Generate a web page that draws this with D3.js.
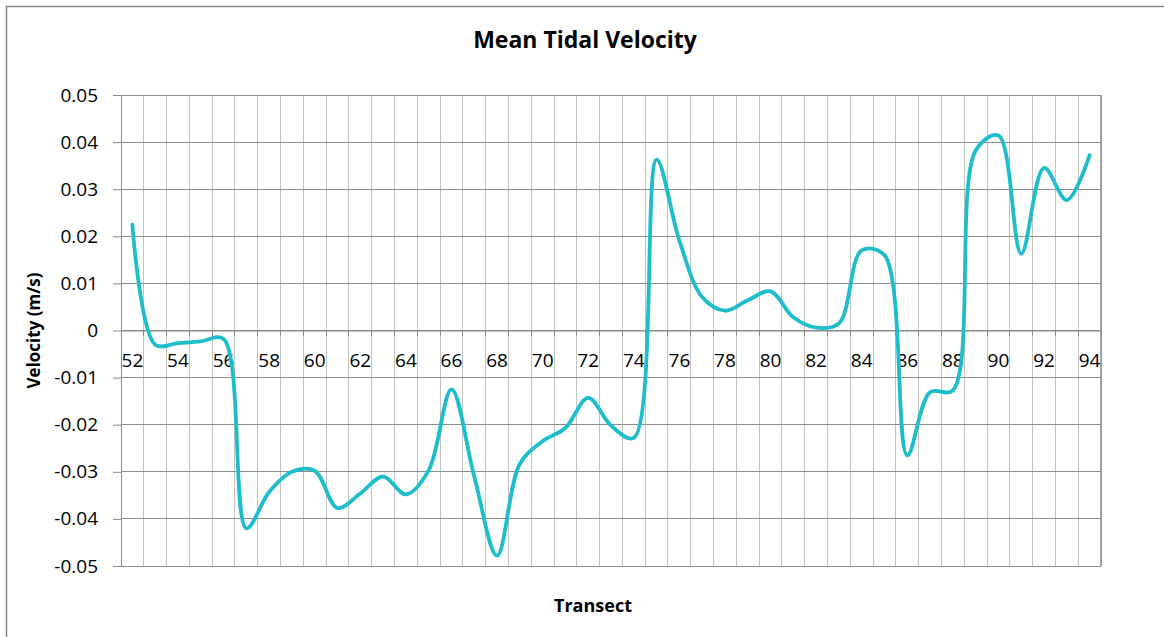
<!DOCTYPE html>
<html>
<head>
<meta charset="utf-8">
<script src="https://cdn.jsdelivr.net/npm/d3@7"></script>
<style>
    body { margin: 0; background: #fff; }
    text { font-family: "Open Sans", sans-serif; fill: #000; }
</style>
</head>
<body>
<div id="line-chart"><svg></svg></div>
<script>
// transect numbers along the x axis
var transects = [52, 53, 54, 55, 56, 57, 58, 59, 60, 61, 62, 63, 64, 65, 66, 67, 68, 69, 70, 71, 72,
    73, 74, 75, 76, 77, 78, 79, 80, 81, 82, 83, 84, 85, 86, 87, 88, 89, 90, 91, 92, 93, 94];

// mean tidal velocity (m/s) per transect
var velocity = [0.0225, -0.003, -0.0027, -0.0023, -0.0018, -0.042, -0.0343, -0.030, -0.0298, -0.0377,
    -0.0346, -0.031, -0.0348, -0.0297, -0.0125, -0.031, -0.0478, -0.0283, -0.0235, -0.0207, -0.0143,
    -0.0202, -0.0228, 0.0363, 0.0191, 0.0071, 0.0042, 0.0064, 0.0083, 0.0028, 0.0006, 0.0015, 0.017,
    0.016, -0.0265, -0.0131, -0.0127, 0.0382, 0.0414, 0.0163, 0.0345, 0.0277, 0.0372];

var xLabels = [52, 54, 56, 58, 60, 62, 64, 66, 68, 70, 72, 74, 76, 78, 80, 82, 84, 86, 88, 90, 92, 94];
var yTicks = [0.05, 0.04, 0.03, 0.02, 0.01, 0, -0.01, -0.02, -0.03, -0.04, -0.05];

var data = transects.map(function (t, i) {
    return {transect: t, v: velocity[i]};
});

var W = 1164, H = 637;
var margin = {top: 95, right: 63, bottom: 71, left: 121},
    width = W - margin.left - margin.right,
    height = H - margin.top - margin.bottom;

var svg = d3.select("#line-chart").select("svg")
    .attr("width", W)
    .attr("height", H);

// outer chart border
svg.append("rect")
    .attr("x", 6.5).attr("y", 6.5)
    .attr("width", W + 10).attr("height", H + 10)
    .attr("fill", "none")
    .attr("stroke", "#868686")
    .attr("stroke-width", 1.5);

var g = svg.append("g")
    .attr("transform", "translate(" + margin.left + "," + margin.top + ")");

var x = d3.scaleBand().domain(transects).range([0, width]).padding(0);
var y = d3.scaleLinear().domain([-0.05, 0.05]).range([height, 0]);

// vertical gridlines on the category boundaries
var edges = transects.map(function (t) { return x(t); }).concat([width]);
g.append("g")
    .selectAll("line")
    .data(edges)
    .enter().append("line")
    .attr("x1", function (d) { return d; })
    .attr("x2", function (d) { return d; })
    .attr("y1", 0).attr("y2", height)
    .attr("stroke", "#c3c3c3")
    .attr("stroke-width", 1)
    .attr("shape-rendering", "crispEdges");

// horizontal gridlines
g.append("g")
    .selectAll("line")
    .data(yTicks)
    .enter().append("line")
    .attr("x1", 0).attr("x2", width)
    .attr("y1", function (d) { return y(d); })
    .attr("y2", function (d) { return y(d); })
    .attr("stroke", "#8c8c8c")
    .attr("stroke-width", 1)
    .attr("shape-rendering", "crispEdges");

// right plot edge
g.append("line")
    .attr("x1", width).attr("x2", width)
    .attr("y1", 0).attr("y2", height)
    .attr("stroke", "#8c8c8c")
    .attr("stroke-width", 1.5);

// Y axis
var yAxis = g.append("g")
    .call(d3.axisLeft(y)
        .tickValues(yTicks)
        .tickSize(8)
        .tickPadding(15)
        .tickFormat(function (d) { return d === 0 ? "0" : d.toFixed(2); }));
yAxis.select(".domain").attr("stroke", "#8c8c8c");
yAxis.selectAll(".tick line").attr("stroke", "#8c8c8c");
yAxis.selectAll("text")
    .attr("font-family", "Open Sans, sans-serif")
    .attr("font-size", 19)
    .attr("fill", "#000");

// X axis sits on the zero line
var zero = g.append("g")
    .attr("transform", "translate(0," + y(0) + ")");
zero.selectAll("line.tk")
    .data(edges)
    .enter().append("line")
    .attr("class", "tk")
    .attr("x1", function (d) { return d; })
    .attr("x2", function (d) { return d; })
    .attr("y1", 0).attr("y2", 5)
    .attr("stroke", "#8c8c8c")
    .attr("shape-rendering", "crispEdges");

var xAxis = zero.call(d3.axisBottom(x)
        .tickValues(xLabels)
        .tickSize(0)
        .tickPadding(23));
xAxis.select(".domain").attr("stroke", "#8c8c8c");
xAxis.selectAll("text")
    .attr("font-family", "Open Sans, sans-serif")
    .attr("font-size", 19)
    .attr("fill", "#000");

// the smoothed line
var valueline = d3.line()
    .x(function (d) { return x(d.transect) + x.bandwidth() / 2; })
    .y(function (d) { return y(d.v); })
    .curve(d3.curveCatmullRom.alpha(0.5));

g.append("path")
    .datum(data)
    .attr("fill", "none")
    .attr("stroke", "#1dbdcb")
    .attr("stroke-width", 3.8)
    .attr("stroke-linejoin", "round")
    .attr("stroke-linecap", "round")
    .attr("d", valueline);

// titles
svg.append("text")
    .attr("x", 585).attr("y", 48)
    .attr("text-anchor", "middle")
    .attr("font-size", 23)
    .attr("font-weight", "bold")
    .text("Mean Tidal Velocity");

svg.append("text")
    .attr("x", 593).attr("y", 612)
    .attr("text-anchor", "middle")
    .attr("font-size", 18)
    .attr("font-weight", "bold")
    .text("Transect");

svg.append("text")
    .attr("transform", "translate(40," + (margin.top + y(0)) + ") rotate(-90)")
    .attr("text-anchor", "middle")
    .attr("font-size", 17)
    .attr("font-weight", "bold")
    .text("Velocity (m/s)");
</script>
</body>
</html>
